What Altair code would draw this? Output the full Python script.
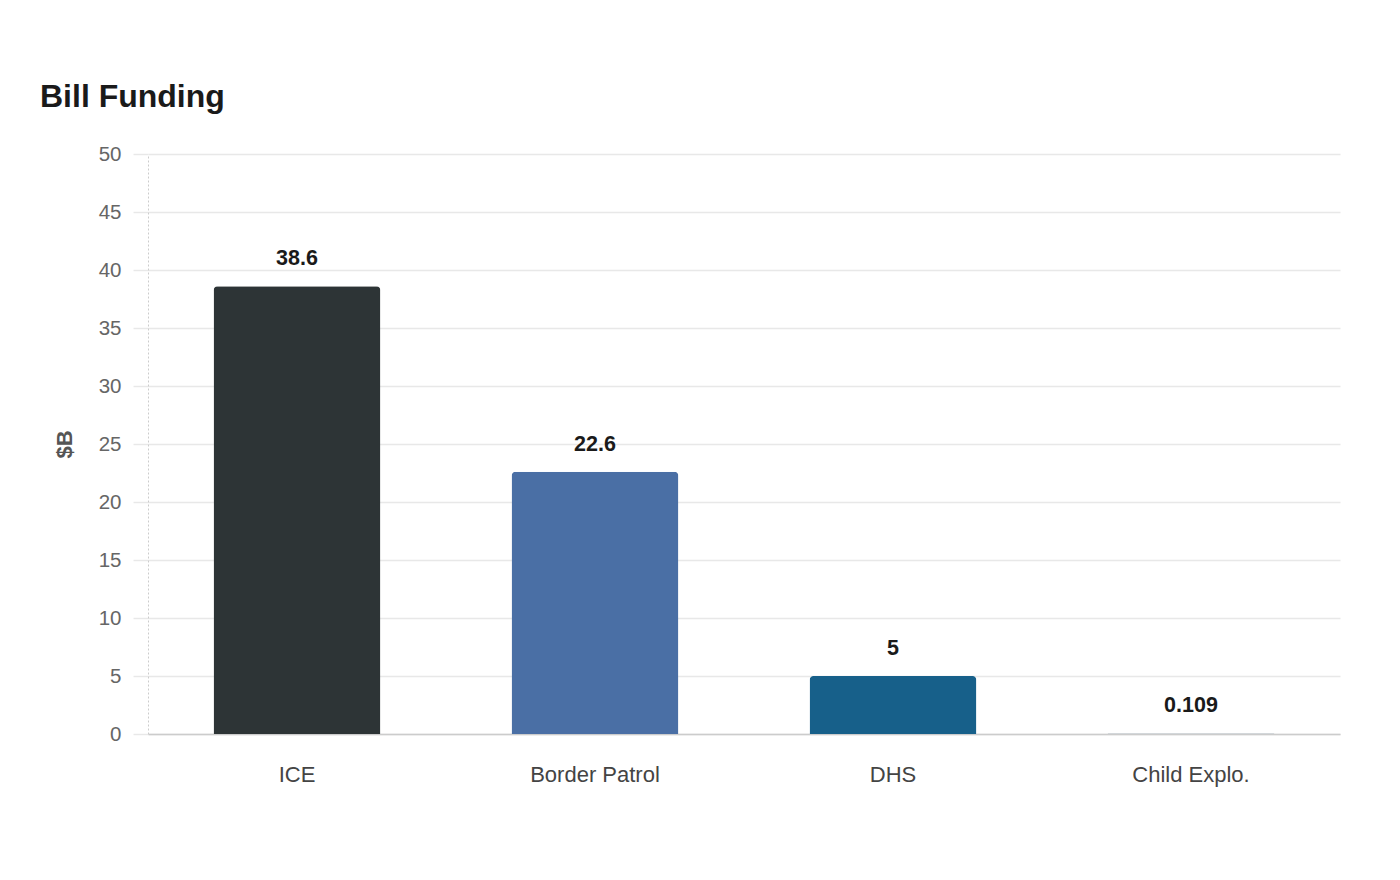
import altair as alt
import pandas as pd

categories = ["ICE", "Border Patrol", "DHS", "Child Explo."]
values = [38.6, 22.6, 5, 0.109]
labels = ["38.6", "22.6", "5", "0.109"]
colors = ["#2d3436", "#4a6fa5", "#17608a", "#d3d7da"]

df = pd.DataFrame({"category": categories, "value": values, "label": labels})

x_axis = alt.Axis(
    labelAngle=0,
    labelFontSize=22,
    labelColor="#444444",
    labelFont="Liberation Sans",
    labelPadding=30,
    ticks=False,
    domainColor="#cccccc",
    domainWidth=1.5,
    grid=False,
)

y_axis = alt.Axis(
    values=[0, 5, 10, 15, 20, 25, 30, 35, 40, 45, 50],
    labelFontSize=20.5,
    labelColor="#666666",
    labelFont="Liberation Sans",
    labelPadding=12,
    tickSize=15,
    tickColor="#e8e8e8",
    tickWidth=1.5,
    gridColor="#e8e8e8",
    gridWidth=1.5,
    domainColor="#cccccc",
    domainDash=[2, 2],
    titleFontSize=22,
    titleFont="Liberation Sans",
    titleFontWeight="bold",
    titleColor="#555555",
    titlePadding=22,
)

x_scale = alt.Scale(paddingInner=0.44, paddingOuter=0.22)
y_scale = alt.Scale(domain=[0, 50], nice=False)

base = alt.Chart(df).encode(
    x=alt.X("category:N", sort=categories, title=None, scale=x_scale, axis=x_axis),
    y=alt.Y("value:Q", title="$B", scale=y_scale, axis=y_axis),
)

bars = base.mark_bar(
    cornerRadiusTopLeft=4, cornerRadiusTopRight=4
).encode(
    color=alt.Color("category:N", scale=alt.Scale(domain=categories, range=colors), legend=None),
)

text = base.mark_text(
    baseline="middle", dy=-27, fontSize=21.5, fontWeight="bold", color="#1a1a1a", font="Liberation Sans"
).encode(
    text="label:N",
)

chart = (
    alt.layer(bars, text)
    .properties(
        width=1192,
        height=580,
        view=alt.ViewBackground(stroke="transparent", strokeWidth=0),
        autosize=alt.AutoSizeParams(type="none"),
        padding={"left": 148, "top": 154, "right": 60, "bottom": 146},
        title=alt.TitleParams(
            "Bill Funding",
            anchor="start",
            frame="group",
            dx=-108,
            offset=30,
            fontSize=32,
            fontWeight="bold",
            font="Liberation Sans",
            color="#1a1a1a",
        ),
    )
    .configure_view(strokeWidth=0, stroke="transparent")
    .configure(background="white")
)

chart.save("out.html", embed_options={"renderer": "svg", "actions": False})
